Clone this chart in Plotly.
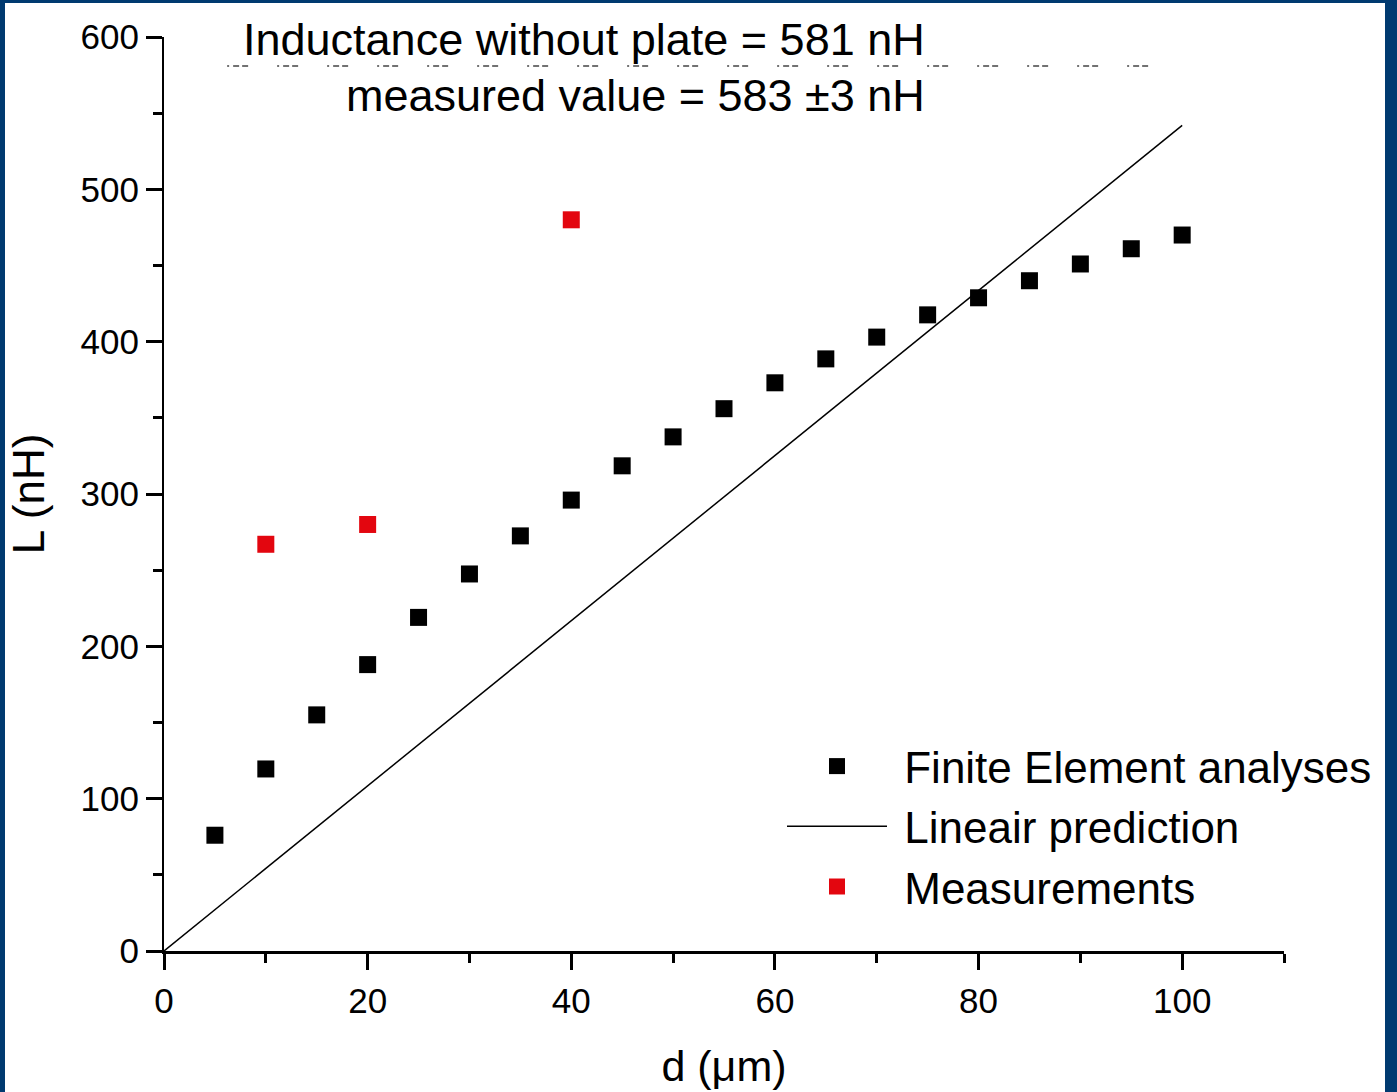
import plotly.graph_objects as go

# ---- data ----
fea_d = [5, 10, 15, 20, 25, 30, 35, 40, 45, 50, 55, 60, 65, 70, 75, 80, 85, 90, 95, 100]
fea_L = [76, 119.5, 155, 188, 219, 247.5, 272.5, 296, 318.5, 337.5, 356, 373, 388.7, 403,
         417.6, 428.8, 440, 451, 461, 470]
lin_d = [0, 100]
lin_L = [0, 542]
meas_d = [10, 20, 40]
meas_L = [267, 280, 480]
ref_d = [6.2, 98.8]
ref_L = [581, 581]

x_ticks = [0, 20, 40, 60, 80, 100]
y_ticks = [0, 100, 200, 300, 400, 500, 600]

W, H = 1397, 1092
L_M, R_M, T_M, B_M = 164, 113, 37, 141
PW = W - L_M - R_M
PH = H - T_M - B_M

def px_x(p):
    return (p - L_M) / PW

def px_y(p):
    return (H - B_M - p) / PH

FONT = "Liberation Sans, Arial, sans-serif"
BLUE = "#003A70"
RED = "#E3060F"
NB = "\u00a0"

fig = go.Figure()
fig.add_trace(go.Scatter(x=ref_d, y=ref_L, mode="lines", showlegend=False,
                         line=dict(color="#444444", width=1.5, dash="2px,4px,6px,3px,6px,29px"),
                         hoverinfo="skip"))
fig.add_trace(go.Scatter(x=fea_d, y=fea_L, mode="markers", name=NB + "Finite Element analyses",
                         marker=dict(symbol="square", size=17, color="black")))
fig.add_trace(go.Scatter(x=lin_d, y=lin_L, mode="lines", name=NB + "Lineair prediction",
                         line=dict(color="black", width=1.5)))
fig.add_trace(go.Scatter(x=meas_d, y=meas_L, mode="markers", name=NB + "Measurements",
                         marker=dict(symbol="square", size=17, color=RED)))

fig.add_shape(type="rect", xref="paper", yref="paper", layer="below",
              x0=px_x(5), x1=px_x(1385), y0=px_y(1100), y1=px_y(3),
              fillcolor="white", line=dict(width=0))

fig.add_annotation(text="Inductance without plate = 581 nH", xref="paper", yref="paper",
                   x=px_x(927), y=px_y(40), xanchor="right", yanchor="middle",
                   showarrow=False, font=dict(family=FONT, size=45, color="black"))
fig.add_annotation(text="measured value = 583 ±3 nH", xref="paper", yref="paper",
                   x=px_x(927), y=px_y(95), xanchor="right", yanchor="middle",
                   showarrow=False, font=dict(family=FONT, size=45, color="black"))

axis_common = dict(showgrid=False, zeroline=False, showline=True, linecolor="black",
                   ticks="outside", ticklen=16, tickwidth=2.5, tickcolor="black",
                   tickfont=dict(family=FONT, size=35, color="black"),
                   automargin=False)

fig.update_layout(
    template="none",
    width=W, height=H,
    margin=dict(l=L_M, r=R_M, t=T_M, b=B_M),
    paper_bgcolor=BLUE, plot_bgcolor="white",
    font=dict(family=FONT, color="black"),
    xaxis=dict(range=[0, 110], tickvals=x_ticks, linewidth=3, ticklabelstandoff=1,
               minor=dict(dtick=10, tick0=0, ticks="outside", ticklen=9, tickwidth=2.5,
                          tickcolor="black", showgrid=False),
               title=dict(text="d (μm)", font=dict(family=FONT, size=43), standoff=32),
               **axis_common),
    yaxis=dict(range=[0, 600], tickvals=y_ticks, linewidth=2, ticklabelstandoff=0,
               minor=dict(dtick=50, tick0=0, ticks="outside", ticklen=9, tickwidth=2.5,
                          tickcolor="black", showgrid=False),
               title=dict(text="L (nH)", font=dict(family=FONT, size=44), standoff=22),
               **axis_common),
    legend=dict(x=px_x(782), y=px_y(731), xanchor="left", yanchor="top",
                bgcolor="rgba(0,0,0,0)", borderwidth=0, itemwidth=100,
                font=dict(family=FONT, size=44, color="black"), tracegroupgap=0),
    showlegend=True,
)

fig.write_html("out.html")
